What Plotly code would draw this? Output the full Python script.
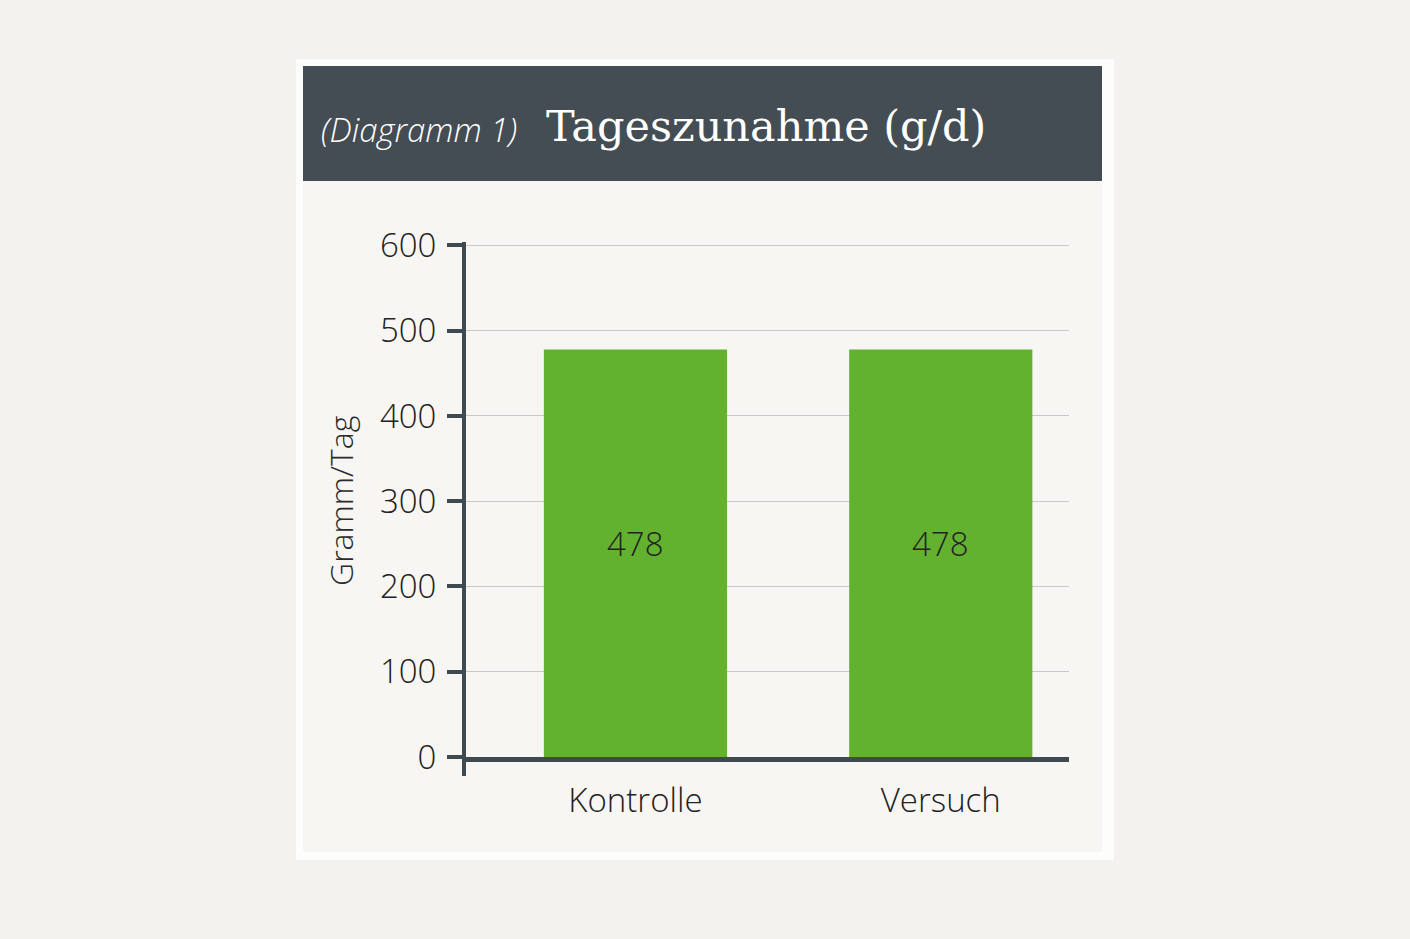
import plotly.graph_objects as go

categories = ["Kontrolle", "Versuch"]
values = [478, 478]
y_ticks = [0, 100, 200, 300, 400, 500, 600]

W, H = 1410, 939
PX0, PX1, PY0, PY1 = 466, 1069, 242, 757  # plot area pixels


def px(x):
    return (x - PX0) / (PX1 - PX0)


def py(y):
    return (PY1 - y) / (PY1 - PY0)


dark = "#3f4a50"
green = "#62b22f"
sans = "Open Sans, Segoe UI, sans-serif"

fig = go.Figure()
fig.add_trace(go.Bar(
    x=categories, y=values, width=0.6,
    marker=dict(color=green, line=dict(width=0)),
    hoverinfo="skip",
))

shapes = [
    dict(type="rect", xref="paper", yref="paper", layer="below",
         x0=px(296), x1=px(1114), y0=py(860), y1=py(59),
         fillcolor="#fdfdfc", line=dict(width=0)),
    dict(type="rect", xref="paper", yref="paper", layer="below",
         x0=px(303), x1=px(1102), y0=py(852), y1=py(66),
         fillcolor="#f8f6f3", line=dict(width=0)),
    dict(type="rect", xref="paper", yref="paper", layer="below",
         x0=px(303), x1=px(1102), y0=py(181), y1=py(66),
         fillcolor="#434d53", line=dict(width=0)),
    dict(type="line", xref="paper", yref="paper",
         x0=px(464), x1=px(464), y0=py(759), y1=py(776),
         line=dict(color=dark, width=4)),
]

annotations = [
    dict(text="<i>(Diagramm 1)</i>", xref="paper", yref="paper",
         x=px(319), y=py(130), xanchor="left", yanchor="middle",
         showarrow=False, font=dict(family=sans, size=33, color="#ffffff", weight=300)),
    dict(text="Tageszunahme (g/d)", xref="paper", yref="paper",
         x=px(544), y=py(126), xanchor="left", yanchor="middle",
         showarrow=False, font=dict(family="DejaVu Serif, Liberation Serif, serif", size=43, color="#ffffff")),
    dict(text="Gramm/Tag", xref="paper", yref="paper",
         x=px(340), y=py(501), xanchor="center", yanchor="middle", textangle=-90,
         showarrow=False, font=dict(family=sans, size=32, color="#2a2a2a", weight=300)),
]
for c, v in zip(categories, values):
    annotations.append(dict(text=str(v), x=c, y=v / 2, xref="x", yref="y",
                            yshift=10, showarrow=False, xanchor="center", yanchor="middle",
                            font=dict(family=sans, size=33, color="#222222", weight=300)))

fig.update_layout(
    width=W, height=H,
    margin=dict(l=PX0, r=W - PX1, t=PY0, b=H - PY1, pad=0),
    paper_bgcolor="#f4f2ee", plot_bgcolor="rgba(0,0,0,0)",
    showlegend=False,
    shapes=shapes, annotations=annotations,
    xaxis=dict(range=[-0.555, 1.42], showline=True, linecolor=dark, linewidth=5,
               ticks="", showgrid=False, zeroline=False,
               tickfont=dict(family=sans, size=33, color="#222222", weight=300),
               ticklabelstandoff=10, fixedrange=True),
    yaxis=dict(range=[0, 604], tickvals=y_ticks, showline=True, linecolor=dark, linewidth=4,
               ticks="outside", ticklen=15, tickwidth=4, tickcolor=dark,
               showgrid=True, gridcolor="#c9c9c9", gridwidth=1, zeroline=False,
               tickfont=dict(family=sans, size=33, color="#222222", weight=300),
               ticklabelstandoff=4, fixedrange=True),
)

fig.write_html("out.html")
